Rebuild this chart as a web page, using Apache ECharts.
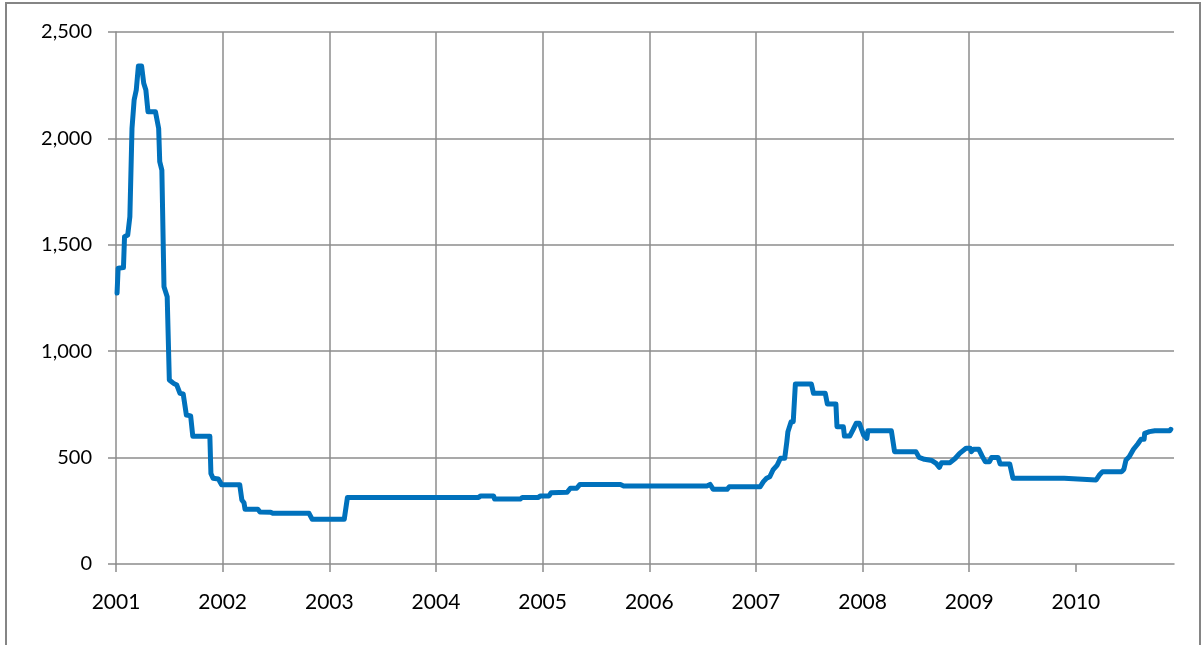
<!DOCTYPE html>
<html>
<head>
<meta charset="utf-8">
<script src="https://cdn.jsdelivr.net/npm/echarts@6/dist/echarts.min.js"></script>
<style>
html,body{margin:0;padding:0;background:#fff;overflow:hidden;}
#chart{position:absolute;left:0;top:0;width:1203px;height:645px;}
#frame{position:absolute;left:5px;top:2px;width:1192px;height:700px;border:2px solid #858585;pointer-events:none;}
</style>
</head>
<body>
<div id="chart"></div>
<div id="frame"></div>
<script>
// time as decimal year
const dates = [
2001.01,2001.02,2001.07,2001.08,2001.11,2001.13,2001.15,2001.17,2001.19,2001.21,
2001.24,2001.26,2001.28,2001.30,2001.37,2001.40,2001.41,2001.43,2001.45,2001.48,
2001.50,2001.54,2001.57,2001.60,2001.63,2001.66,2001.70,2001.72,2001.88,2001.89,
2001.91,2001.96,2001.99,2002.16,2002.18,2002.20,2002.21,2002.33,2002.35,2002.45,
2002.47,2002.81,2002.84,2003.14,2003.17,2004.40,2004.42,2004.54,2004.55,2004.79,
2004.81,2004.96,2004.98,2005.06,2005.08,2005.23,2005.26,2005.32,2005.35,2005.73,
2005.76,2006.54,2006.57,2006.60,2006.73,2006.75,2007.04,2007.07,2007.10,2007.13,
2007.16,2007.20,2007.23,2007.27,2007.29,2007.30,2007.33,2007.35,2007.37,2007.52,
2007.54,2007.65,2007.67,2007.75,2007.76,2007.82,2007.83,2007.88,2007.91,2007.94,
2007.97,2008.01,2008.04,2008.05,2008.27,2008.30,2008.50,2008.53,2008.58,2008.65,
2008.69,2008.72,2008.74,2008.82,2008.87,2008.91,2008.97,2009.01,2009.02,2009.04,
2009.09,2009.12,2009.15,2009.19,2009.21,2009.27,2009.29,2009.38,2009.41,2009.89,
2009.90,2010.19,2010.22,2010.25,2010.43,2010.45,2010.47,2010.50,2010.54,2010.58,
2010.61,2010.64,2010.645,2010.69,2010.74,2010.88,2010.89
];
const values = [
1273,1390,1393,1538,1546,1632,2047,2180,2227,2340,
2340,2259,2227,2125,2125,2047,1891,1851,1303,1256,
865,849,841,802,799,700,696,600,600,425,
403,399,373,373,301,288,257,257,244,243,
238,238,210,210,313,313,320,320,305,305,
313,313,320,320,335,337,356,356,374,374,
367,367,374,351,351,363,363,387,403,410,
442,465,497,497,575,622,669,669,846,846,
802,802,752,752,645,645,601,601,630,661,
661,606,590,626,626,528,528,501,492,486,
473,454,476,476,497,520,544,544,528,539,
539,508,481,481,501,501,470,470,403,403,
395,395,418,434,434,445,489,504,539,564,
586,586,614,622,626,626,633
];
const yTicks = [0,500,1000,1500,2000,2500];
const xYears = [2001,2002,2003,2004,2005,2006,2007,2008,2009,2010];

const chart = echarts.init(document.getElementById('chart'));
const fontFamily = 'Lato, "Open Sans", sans-serif';
chart.setOption({
  animation:false,
  backgroundColor:'#fff',
  grid:{left:116,right:29,top:32,bottom:81,containLabel:false},
  xAxis:{
    type:'value',min:2001,max:2010.92,interval:1,
    axisLine:{show:true,lineStyle:{color:'#8c8c8c',width:1.5}},
    axisTick:{show:true,length:8,lineStyle:{color:'#8c8c8c',width:1.5},
      customValues:xYears},
    axisLabel:{margin:28,color:'#000',fontSize:21,fontFamily:fontFamily,
      customValues:xYears,
      formatter:v=>String(Math.round(v))},
    splitLine:{show:true,showMinLine:false,showMaxLine:false,lineStyle:{color:'#8c8c8c',width:1.5}}
  },
  yAxis:{
    type:'value',min:0,max:2500,interval:500,
    axisLine:{show:true,lineStyle:{color:'#8c8c8c',width:1.5}},
    axisTick:{show:true,length:8,lineStyle:{color:'#8c8c8c',width:1.5}},
    axisLabel:{margin:24,color:'#000',fontSize:20,fontFamily:fontFamily,
      formatter:v=>v.toLocaleString('en-US')},
    splitLine:{show:true,showMinLine:false,lineStyle:{color:'#8c8c8c',width:1.5}}
  },
  series:[{
    type:'line',
    data:dates.map((d,i)=>[d,values[i]]),
    showSymbol:false,
    lineStyle:{color:'#0071BC',width:5,join:'round',cap:'round'},
    itemStyle:{color:'#0071BC'}
  }]
});
</script>
</body>
</html>
